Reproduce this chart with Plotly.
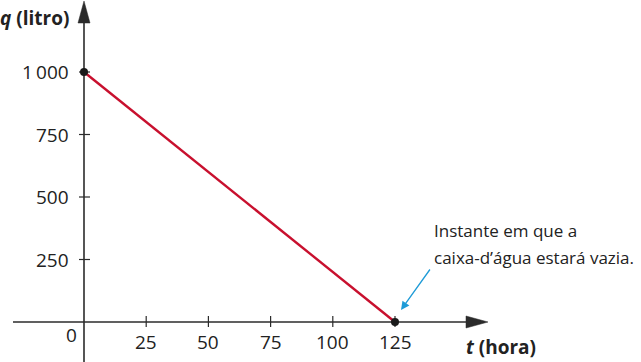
import plotly.graph_objects as go

# data
t_values = [0, 125]
q_values = [1000, 0]
x_ticks = [25, 50, 75, 100, 125]
x_tick_labels = ["25", "50", "75", "100", "125"]
y_ticks = [250, 500, 750, 1000]
y_tick_labels = ["250", "500", "750", "1\u2009000"]

W, H = 641, 362
X0PX, Y0PX = 84, 322           # pixel of origin
SX = 62.2 / 25                  # px per hour
SY = 62.5 / 250                 # px per litre

def tx(px):
    return (px - X0PX) / SX

def qy(py):
    return (Y0PX - py) / SY

AX = "#2b2b2b"
RED = "#c8102e"
BLUE = "#1e9bd7"
FONT = "Open Sans"

fig = go.Figure()
fig.add_trace(go.Scatter(x=t_values, y=q_values, mode="lines",
                         line=dict(color=RED, width=2.4), hoverinfo="skip"))
fig.add_trace(go.Scatter(x=t_values, y=q_values, mode="markers",
                         marker=dict(color="#1a1a1a", size=8), hoverinfo="skip"))

shapes = []
# axes lines
shapes.append(dict(type="line", x0=tx(13), x1=tx(470), y0=0, y1=0,
                   line=dict(color=AX, width=1.6), layer="below"))
shapes.append(dict(type="line", x0=0, x1=0, y0=qy(362), y1=qy(18),
                   line=dict(color=AX, width=1.6), layer="below"))
# arrow heads
shapes.append(dict(type="path",
                   path=f"M {tx(488)} 0 L {tx(466)} {qy(Y0PX-6)} L {tx(466)} {qy(Y0PX+6)} Z",
                   fillcolor=AX, line=dict(color=AX, width=0.5)))
shapes.append(dict(type="path",
                   path=f"M 0 {qy(1)} L {tx(X0PX-6)} {qy(23)} L {tx(X0PX+6)} {qy(23)} Z",
                   fillcolor=AX, line=dict(color=AX, width=0.5)))
# ticks
for t in x_ticks:
    shapes.append(dict(type="line", x0=t, x1=t, y0=qy(Y0PX-6), y1=qy(Y0PX+5),
                       line=dict(color=AX, width=1.2), layer="below"))
for q in y_ticks:
    shapes.append(dict(type="line", x0=tx(X0PX-5), x1=tx(X0PX+6), y0=q, y1=q,
                       line=dict(color=AX, width=1.2), layer="below"))

ann = []
for t, lab in zip(x_ticks, x_tick_labels):
    ann.append(dict(x=t, y=qy(342), text=lab, showarrow=False, xanchor="center",
                    yanchor="middle", font=dict(family=FONT, size=19, color="#222")))
for q, lab in zip(y_ticks, y_tick_labels):
    ann.append(dict(x=tx(71), y=q, text=lab, showarrow=False, xanchor="right",
                    yanchor="middle", font=dict(family=FONT, size=19, color="#222")))
ann.append(dict(x=tx(79), y=qy(335), text="0", showarrow=False, xanchor="right",
                yanchor="middle", font=dict(family=FONT, size=19, color="#222")))
# axis titles
ann.append(dict(x=tx(71), y=qy(18), text="<b><i>q</i> (litro)</b>", showarrow=False,
                xanchor="right", yanchor="middle", font=dict(family=FONT, size=19, color="#222")))
ann.append(dict(x=tx(464), y=qy(347), text="<b><i>t</i> (hora)</b>", showarrow=False,
                xanchor="left", yanchor="middle", font=dict(family=FONT, size=19, color="#222")))
# callout
ann.append(dict(x=tx(432), y=qy(230), text="Instante em que a", showarrow=False,
                xanchor="left", yanchor="middle", font=dict(family=FONT, size=17, color="#222")))
ann.append(dict(x=tx(432), y=qy(257), text="caixa-d\u2019água estará vazia.", showarrow=False,
                xanchor="left", yanchor="middle", font=dict(family=FONT, size=17, color="#222")))
ann.append(dict(x=tx(401), y=qy(310), ax=tx(431), ay=qy(268), axref="x", ayref="y",
                text="", showarrow=True, arrowhead=2, arrowsize=1.3, arrowwidth=1.3,
                arrowcolor=BLUE))

fig.update_layout(
    width=W, height=H, margin=dict(l=0, r=0, t=0, b=0),
    paper_bgcolor="white", plot_bgcolor="white", showlegend=False,
    xaxis=dict(range=[tx(0), tx(W)], visible=False, fixedrange=True),
    yaxis=dict(range=[qy(H), qy(0)], visible=False, fixedrange=True),
    shapes=shapes, annotations=ann,
)
fig.write_html("out.html")
